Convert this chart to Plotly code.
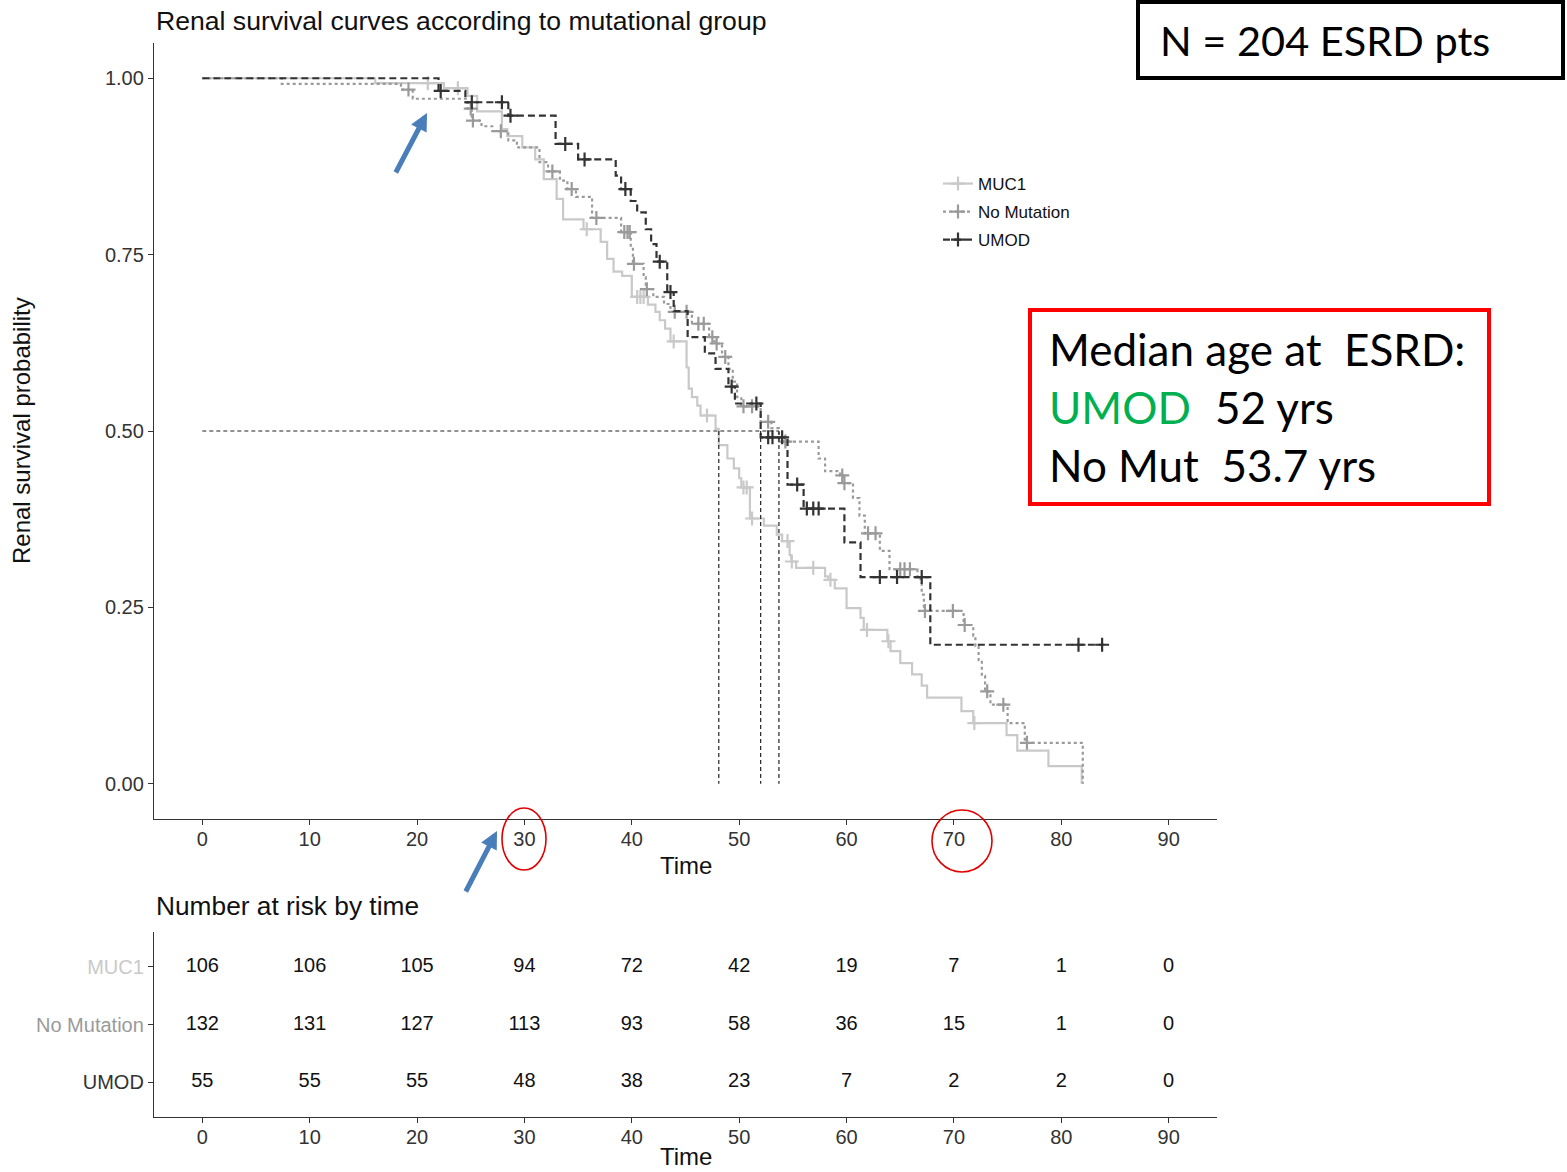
import numpy as np
import plotly.graph_objects as go

W, H = 1567, 1172

# ---------------- data ----------------
groups = ["MUC1", "No Mutation", "UMOD"]

muc1_t = [16.1, 22.5, 24.7, 25.6, 27.9, 28.4, 29.8, 31.0, 31.8, 33.0, 33.6, 35.5, 37.1, 37.7, 38.3,
          39.1, 40.0, 41.5, 42.2, 42.6, 43.1, 43.6, 45.1, 45.3, 45.6, 46.1, 46.4, 47.8, 48.1, 48.9,
          49.5, 50.0, 50.2, 51.0, 52.3, 53.5, 54.0, 54.7, 54.85, 55.3, 58.0, 58.3, 58.9, 60.0, 61.3,
          61.6, 63.8, 64.1, 65.0, 66.1, 67.0, 67.5, 70.7, 71.8, 74.9, 75.9, 78.8, 81.9]
muc1_s = [0.993, 0.986, 0.975, 0.953, 0.928, 0.918, 0.902, 0.885, 0.857, 0.829, 0.800, 0.786, 0.768,
          0.744, 0.726, 0.720, 0.690, 0.679, 0.669, 0.657, 0.645, 0.627, 0.590, 0.560, 0.548, 0.536,
          0.522, 0.503, 0.480, 0.461, 0.447, 0.433, 0.420, 0.376, 0.366, 0.353, 0.344, 0.324, 0.315,
          0.306, 0.294, 0.289, 0.277, 0.249, 0.235, 0.218, 0.202, 0.188, 0.171, 0.155, 0.139, 0.122,
          0.103, 0.086, 0.069, 0.047, 0.025, 0.000]
muc1_end = 81.9
muc1_cens = [21.0, 23.8, 35.8, 40.5, 40.8, 41.1, 43.9, 47.0, 50.4, 50.7, 51.2, 54.5, 54.9, 56.9,
             58.5, 61.9, 63.9, 71.9]

nomut_t = [7.4, 18.5, 19.6, 24.7, 25.1, 26.0, 27.0, 28.5, 29.3, 31.4, 32.2, 33.3, 34.0, 34.8, 36.3,
           39.0, 39.9, 40.1, 41.1, 41.3, 42.0, 43.0, 43.6, 45.6, 47.2, 47.7, 48.4, 49.0, 49.4, 49.8,
           50.2, 52.0, 53.0, 53.7, 57.4, 58.0, 59.4, 59.7, 60.6, 61.2, 61.7, 63.1, 64.0, 66.6, 67.0,
           67.2, 70.9, 71.8, 72.0, 72.3, 72.6, 72.9, 73.4, 75.0, 76.6, 82.0]
nomut_s = [0.992, 0.984, 0.971, 0.957, 0.940, 0.932, 0.925, 0.912, 0.902, 0.881, 0.868, 0.855, 0.843,
           0.832, 0.802, 0.782, 0.760, 0.737, 0.718, 0.701, 0.690, 0.680, 0.669, 0.652, 0.633, 0.624,
           0.605, 0.588, 0.570, 0.548, 0.535, 0.513, 0.504, 0.485, 0.461, 0.443, 0.437, 0.426, 0.405,
           0.380, 0.355, 0.330, 0.304, 0.290, 0.268, 0.245, 0.225, 0.210, 0.195, 0.175, 0.153, 0.131,
           0.112, 0.086, 0.058, 0.000]
nomut_end = 82.0
nomut_cens = [19.2, 25.0, 25.2, 27.8, 32.6, 34.4, 36.7, 39.3, 39.6, 39.8, 40.2, 41.4, 44.0, 45.1,
              46.2, 46.7, 47.5, 47.9, 48.7, 50.4, 51.2, 52.7, 54.3, 59.6, 59.8, 62.0, 62.7, 65.0,
              65.4, 65.9, 67.3, 69.9, 71.0, 73.1, 74.6, 76.8]

umod_t = [22.0, 24.5, 28.5, 32.9, 35.0, 38.5, 39.0, 39.9, 40.5, 41.3, 41.8, 42.3, 43.3, 43.9, 45.2,
          46.8, 47.8, 49.0, 49.6, 52.0, 54.5, 56.0, 59.8, 61.3, 67.8]
umod_s = [0.982, 0.966, 0.947, 0.907, 0.885, 0.862, 0.843, 0.826, 0.810, 0.786, 0.765, 0.740, 0.697,
          0.670, 0.633, 0.610, 0.588, 0.563, 0.539, 0.491, 0.424, 0.390, 0.342, 0.293, 0.197]
umod_end = 84.0
umod_cens = [22.2, 25.1, 27.9, 28.7, 33.8, 35.6, 39.4, 42.6, 43.6, 49.3, 51.6, 52.7, 53.1, 54.0,
             55.4, 56.3, 56.9, 57.4, 63.1, 64.7, 67.0, 81.6, 83.8]

medians = [48.1, 52.0, 53.7]

risk_times = [0, 10, 20, 30, 40, 50, 60, 70, 80, 90]
risk_muc1 = [106, 106, 105, 94, 72, 42, 19, 7, 1, 0]
risk_nomut = [132, 131, 127, 113, 93, 58, 36, 15, 1, 0]
risk_umod = [55, 55, 55, 48, 38, 23, 7, 2, 2, 0]

y_ticks = [0, 0.25, 0.5, 0.75, 1.0]
y_ticktext = ["0.00", "0.25", "0.50", "0.75", "1.00"]

# ---------------- styling ----------------
colors = {"MUC1": "#c9c9c9", "No Mutation": "#9a9a9a", "UMOD": "#333333"}
dashes = {"MUC1": "solid", "No Mutation": "3px,3px", "UMOD": "7px,4px"}
FONT = "Liberation Sans"
TXT = "#333333"


def px(x):
    return x / W


def py(y):
    return 1 - y / H


XD = [px(154), px(1217)]
Y1D = [py(819), py(43)]
Y2D = [py(1117), py(932)]

fig = go.Figure()

series = {
    "MUC1": (muc1_t, muc1_s, muc1_end, muc1_cens),
    "No Mutation": (nomut_t, nomut_s, nomut_end, nomut_cens),
    "UMOD": (umod_t, umod_s, umod_end, umod_cens),
}

legend_names = {"MUC1": "legend", "No Mutation": "legend2", "UMOD": "legend3"}

for g in groups:
    t, s, tend, cens = series[g]
    xs = [0] + list(t) + [tend]
    ys = [1.0] + list(s) + [s[-1]]
    fig.add_trace(go.Scatter(x=xs, y=ys, mode="lines", line=dict(color=colors[g], width=2.2,
                                                                 dash=dashes[g], shape="hv"),
                             showlegend=False, hoverinfo="skip", xaxis="x", yaxis="y"))
    # survival at censor times (step lookup)
    tt = np.array([0] + list(t))
    ss = np.array([1.0] + list(s))
    idx = np.searchsorted(tt, np.array(cens), side="right") - 1
    fig.add_trace(go.Scatter(x=cens, y=ss[idx], mode="markers",
                             marker=dict(symbol="cross-thin", size=10,
                                         line=dict(color=colors[g], width=2.2)),
                             showlegend=False, hoverinfo="skip", xaxis="x", yaxis="y"))
    # legend entry
    fig.add_trace(go.Scatter(x=[None], y=[None], mode="lines+markers", name=g,
                             line=dict(color=colors[g], width=2.2, dash=dashes[g]),
                             marker=dict(symbol="cross-thin", size=10,
                                         line=dict(color=colors[g], width=2.2)),
                             legend=legend_names[g], xaxis="x", yaxis="y"))

# risk table numbers
row_pos = {"MUC1": 3, "No Mutation": 2, "UMOD": 1}
risk_vals = {"MUC1": risk_muc1, "No Mutation": risk_nomut, "UMOD": risk_umod}
for g in groups:
    fig.add_trace(go.Scatter(x=risk_times, y=[row_pos[g]] * len(risk_times), mode="text",
                             text=[str(v) for v in risk_vals[g]],
                             textfont=dict(family=FONT, size=20, color="#111111"),
                             showlegend=False, hoverinfo="skip", xaxis="x2", yaxis="y2"))

# median lines
shapes = [dict(type="line", xref="x", yref="y", x0=0, x1=max(medians), y0=0.5, y1=0.5,
               line=dict(color="#222222", width=1.2, dash="4px,3px"))]
for m in medians:
    shapes.append(dict(type="line", xref="x", yref="y", x0=m, x1=m, y0=0.5, y1=0,
                       line=dict(color="#222222", width=1.2, dash="4px,3px")))

# boxes and circles
shapes.append(dict(type="rect", xref="paper", yref="paper", x0=px(1138), x1=px(1563),
                   y0=py(78), y1=py(2), line=dict(color="black", width=4)))
shapes.append(dict(type="rect", xref="paper", yref="paper", x0=px(1030), x1=px(1489),
                   y0=py(504), y1=py(310), line=dict(color="#ff0000", width=4)))
shapes.append(dict(type="circle", xref="paper", yref="paper", x0=px(502), x1=px(546),
                   y0=py(870), y1=py(808), line=dict(color="#e00000", width=1.6)))
shapes.append(dict(type="circle", xref="paper", yref="paper", x0=px(932), x1=px(992),
                   y0=py(872), y1=py(810), line=dict(color="#e00000", width=1.6)))

ann = []


def text_ann(text, x, y, size, xanchor="center", color="#111111", family=FONT, angle=0):
    ann.append(dict(text=text, x=px(x), y=py(y), xref="paper", yref="paper", xanchor=xanchor,
                    yanchor="middle", showarrow=False, textangle=angle,
                    font=dict(family=family, size=size, color=color)))


text_ann("Renal survival curves according to mutational group", 154, 21, 26.6, xanchor="left")
text_ann("Renal survival probability", 22, 431, 24, angle=-90)
text_ann("Time", 686, 865, 24)
text_ann("Number at risk by time", 154, 906, 26.3, xanchor="left")
text_ann("Time", 686, 1156, 24)

BIG = "Lato"
text_ann("N = 204 ESRD pts", 1158, 40, 41.5, xanchor="left", color="black", family=BIG)
text_ann("Median age at  ESRD:", 1047, 349, 44, xanchor="left", color="black", family=BIG)
text_ann("UMOD", 1047, 407, 44, xanchor="left", color="#00b050", family=BIG)
text_ann("52 yrs", 1213, 407, 44, xanchor="left", color="black", family=BIG)
text_ann("No Mut  53.7 yrs", 1047, 465, 44, xanchor="left", color="black", family=BIG)

# blue arrows
for (hx, hy, tx, ty) in [(427, 113, 395, 174), (497, 831, 465, 893)]:
    ann.append(dict(x=px(hx), y=py(hy), xref="paper", yref="paper", ax=tx - hx, ay=ty - hy,
                    axref="pixel", ayref="pixel", text="", showarrow=True, arrowhead=2,
                    arrowsize=0.7, arrowwidth=5, arrowcolor="#4a7ebb"))

axis_common = dict(showline=True, linecolor="#333333", linewidth=1.3, ticks="outside",
                   ticklen=5, tickwidth=1.2, tickcolor="#333333", showgrid=False, zeroline=False,
                   tickfont=dict(family=FONT, size=20, color=TXT))

row_text = ['<span style="color:%s">%s</span>' % (colors[g], g) for g in ["UMOD", "No Mutation", "MUC1"]]

legend_common = dict(xanchor="left", yanchor="middle",
                     font=dict(family=FONT, size=17, color="#111111"), bgcolor="rgba(0,0,0,0)")

fig.update_layout(
    width=W, height=H, margin=dict(l=0, r=0, t=0, b=0),
    paper_bgcolor="white", plot_bgcolor="white",
    xaxis=dict(domain=XD, range=[-4.5, 94.5], tickvals=risk_times, anchor="y",
               ticklabelstandoff=-3, **axis_common),
    yaxis=dict(domain=Y1D, range=[-0.05, 1.05], tickvals=y_ticks, ticktext=y_ticktext,
               anchor="x", **axis_common),
    xaxis2=dict(domain=XD, range=[-4.5, 94.5], tickvals=risk_times, anchor="y2",
                ticklabelstandoff=-3, **axis_common),
    yaxis2=dict(domain=Y2D, range=[0.4, 3.6], tickvals=[1, 2, 3], ticktext=row_text,
                anchor="x2", **axis_common),
    shapes=shapes, annotations=ann,
    legend=dict(x=px(938), y=py(184), **legend_common),
    legend2=dict(x=px(938), y=py(212), **legend_common),
    legend3=dict(x=px(938), y=py(240), **legend_common),
)

fig.write_html("out.html")
